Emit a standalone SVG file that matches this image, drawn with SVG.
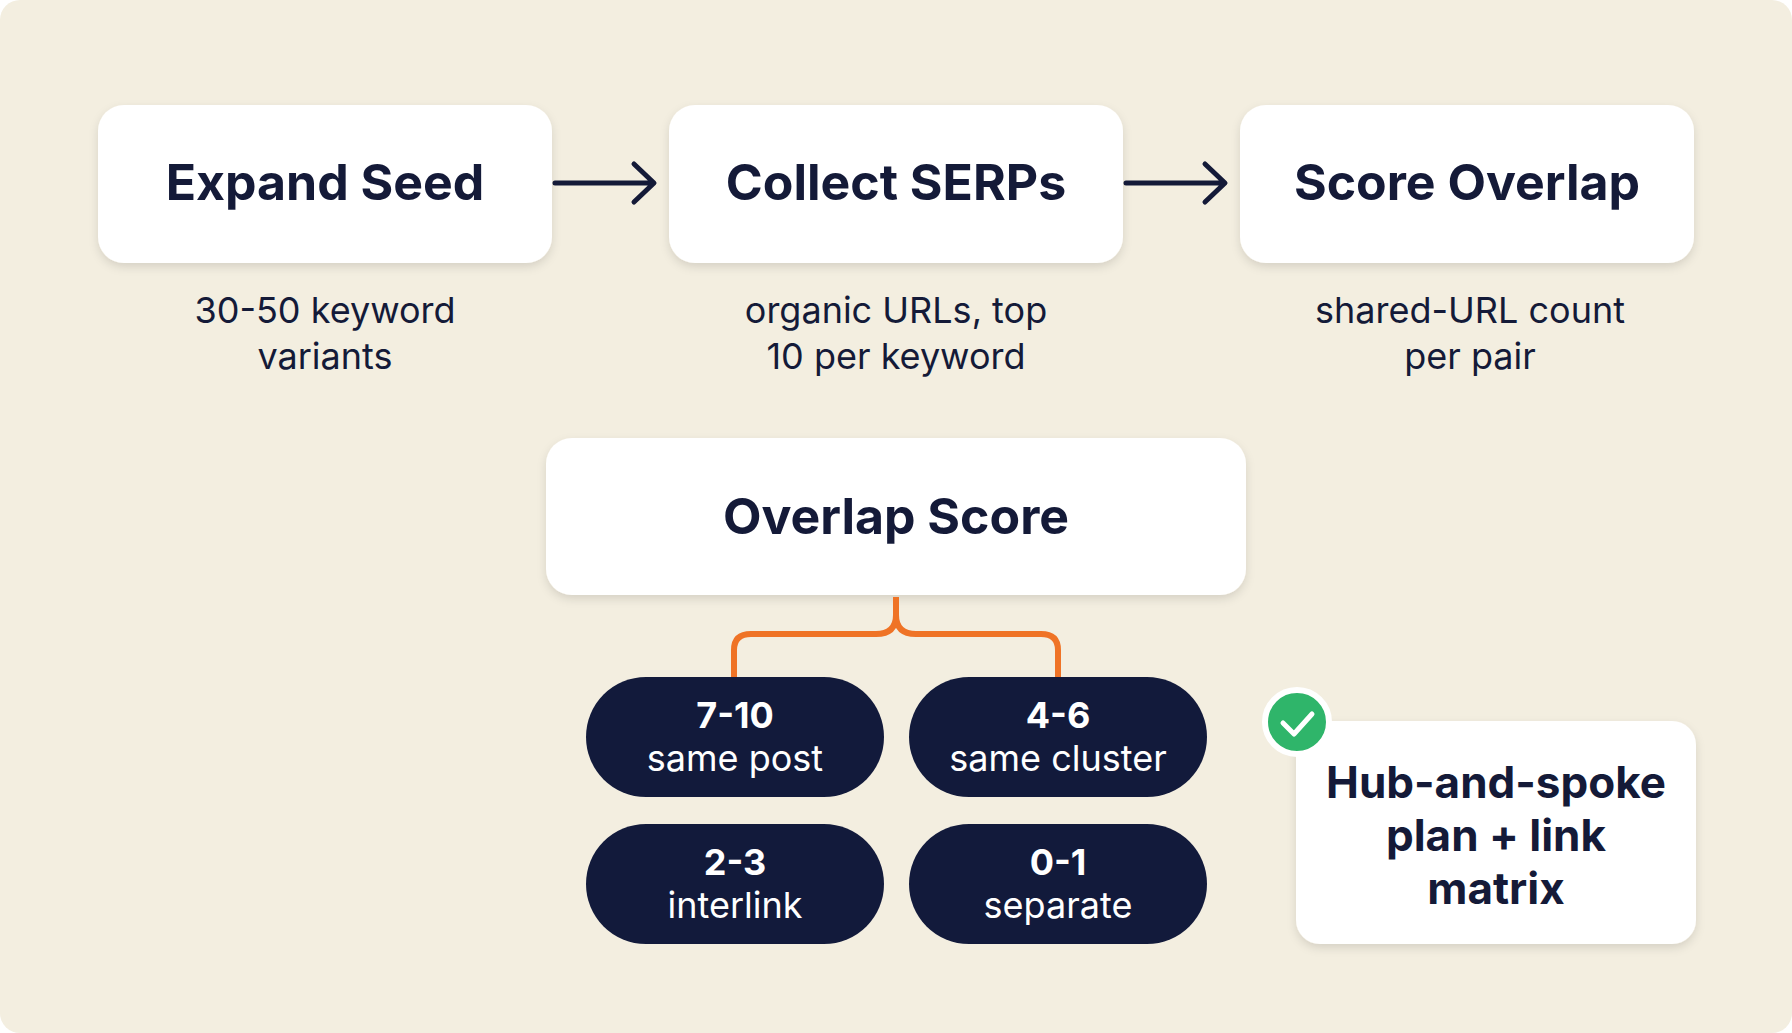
<svg xmlns="http://www.w3.org/2000/svg" width="1792" height="1033" viewBox="0 0 1792 1033">
<defs>
<style>
.box{fill:#fff;filter:url(#sh)}
.t{font-family:Inter,"Liberation Sans",sans-serif;font-weight:700;fill:#141a38;text-anchor:middle}
.s{font-family:Inter,"Liberation Sans",sans-serif;fill:#141a38;text-anchor:middle;font-size:36px}
.pill{fill:#121a3b}
.pt{font-family:Inter,"Liberation Sans",sans-serif;fill:#fff;text-anchor:middle;font-size:36px}
.arr{stroke:#141a38;stroke-width:5;fill:none;stroke-linecap:round;stroke-linejoin:round}
</style>
<filter id="sh" x="-10%" y="-10%" width="120%" height="130%"><feDropShadow dx="0" dy="4" stdDeviation="5" flood-color="#000" flood-opacity="0.12"/></filter>
</defs>
<rect width="1792" height="1033" rx="20" fill="#f3eee0"/>
<g id="expand"><rect class="box" x="98" y="105" width="454" height="158" rx="26"/><text class="t" x="325" y="200" font-size="50">Expand Seed</text><text class="s" x="325" y="323">30-50 keyword</text><text class="s" x="325" y="369">variants</text></g>
<g id="collect"><rect class="box" x="669" y="105" width="454" height="158" rx="26"/><text class="t" x="896" y="200" font-size="50">Collect SERPs</text><text class="s" x="896" y="323">organic URLs, top</text><text class="s" x="896" y="369">10 per keyword</text></g>
<g id="score"><rect class="box" x="1240" y="105" width="454" height="158" rx="26"/><text class="t" x="1467" y="200" font-size="50">Score Overlap</text><text class="s" x="1470" y="323">shared-URL count</text><text class="s" x="1470" y="369">per pair</text></g>
<g id="overlap"><rect class="box" x="546" y="438" width="700" height="157" rx="26"/><text class="t" x="896" y="534" font-size="50">Overlap Score</text></g>
<g id="connectors">
<path class="arr" d="M555 183H652M634 164L654 183L634 202"/>
<path class="arr" d="M1126 183H1223M1205 164L1225 183L1205 202"/>
<path d="M896 597V615Q896 634 876 634H751Q734 634 734 650V677M896 615Q896 634 916 634H1041Q1058 634 1058 650V677" fill="none" stroke="#ef7326" stroke-width="6"/>
</g>
<g id="p1"><rect class="pill" x="586" y="677" width="298" height="120" rx="60"/><text class="pt" x="735" y="728" font-weight="700">7-10</text><text class="pt" x="735" y="771">same post</text></g>
<g id="p2"><rect class="pill" x="909" y="677" width="298" height="120" rx="60"/><text class="pt" x="1058" y="728" font-weight="700">4-6</text><text class="pt" x="1058" y="771">same cluster</text></g>
<g id="p3"><rect class="pill" x="586" y="824" width="298" height="120" rx="60"/><text class="pt" x="735" y="875" font-weight="700">2-3</text><text class="pt" x="735" y="918">interlink</text></g>
<g id="p4"><rect class="pill" x="909" y="824" width="298" height="120" rx="60"/><text class="pt" x="1058" y="875" font-weight="700">0-1</text><text class="pt" x="1058" y="918">separate</text></g>
<g id="result"><rect class="box" x="1296" y="721" width="400" height="223" rx="24"/><text class="t" x="1496" y="798" font-size="44">Hub-and-spoke</text><text class="t" x="1496" y="851" font-size="44">plan + link</text><text class="t" x="1496" y="904" font-size="44">matrix</text>
<circle cx="1297" cy="722" r="32" fill="#2fb56a" stroke="#fff" stroke-width="6"/><path d="M1283 723L1294 734L1312 714" fill="none" stroke="#fff" stroke-width="5" stroke-linecap="round" stroke-linejoin="round"/></g>
</svg>
